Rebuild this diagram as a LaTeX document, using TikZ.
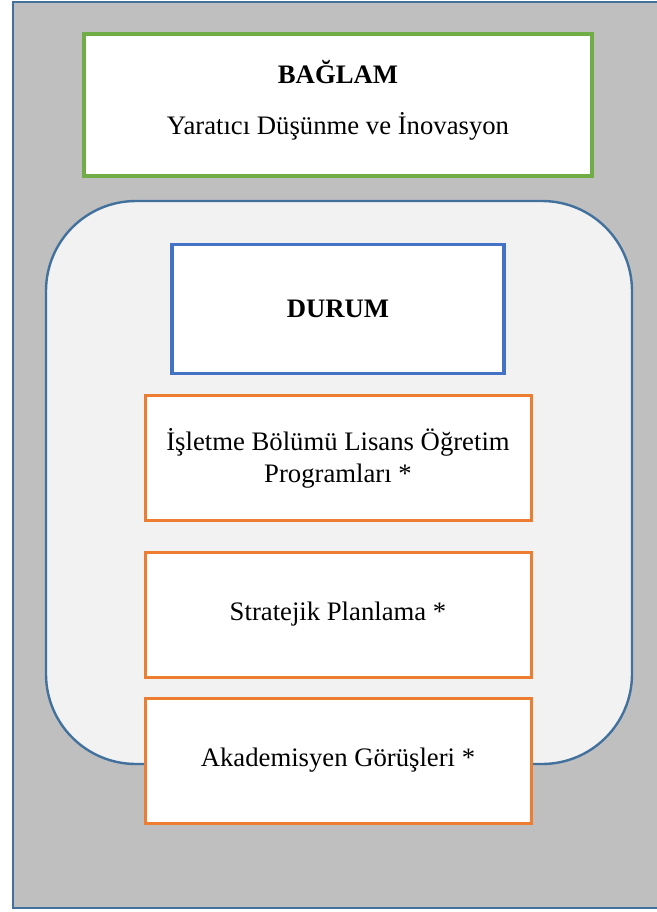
\documentclass[tikz,border=0pt]{standalone}
\usepackage{fontspec}
\setmainfont{Liberation Serif}
\definecolor{frameblue}{HTML}{41719C}
\definecolor{greenline}{HTML}{70AD47}
\definecolor{blueline}{HTML}{4472C4}
\definecolor{orangeline}{HTML}{ED7D31}
\definecolor{pagegrey}{HTML}{BFBFBF}
\definecolor{panelgrey}{HTML}{F2F2F2}
\tikzset{
  textbox/.style={fill=white,line width=1.6pt,align=center,inner sep=0pt},
  orangebox/.style={textbox,draw=orangeline,line width=1.5pt,minimum width=193pt,minimum height=62.5pt}
}
\begin{document}
\begin{tikzpicture}[x=0.5pt,y=-0.5pt]
      \fontsize{13.35}{16}\selectfont
      \useasboundingbox (0,0) rectangle (657,912);
      \clip (0,0) rectangle (657,912);
      % outer frame
      \draw[fill=pagegrey,draw=frameblue,line width=1.3pt] (13,2) rectangle (670,908);
      % context box
      \draw[textbox,draw=greenline] (84,34) rectangle (592,176);
      \node (baglam) at (338,72) {\textbf{BAĞLAM}};
      \node (yaratici) at (338,126) {Yaratıcı Düşünme ve İnovasyon};
      % case panel
      \draw[fill=panelgrey,draw=frameblue,line width=1.2pt,rounded corners=45pt] (46,201) rectangle (632,764);
      \node[textbox,draw=blueline,minimum width=166pt,minimum height=64.5pt] (durum) at (338,309) {\textbf{DURUM}};
      % sources
      \node[orangebox] (lisans) at (338,458) {İşletme Bölümü Lisans Öğretim\\Programları *};
      \node[orangebox] (strateji) at (338,614.5) {Stratejik Planlama *};
      \node[orangebox] (akademi) at (338,760.5) {Akademisyen Görüşleri *};
\end{tikzpicture}
\end{document}
